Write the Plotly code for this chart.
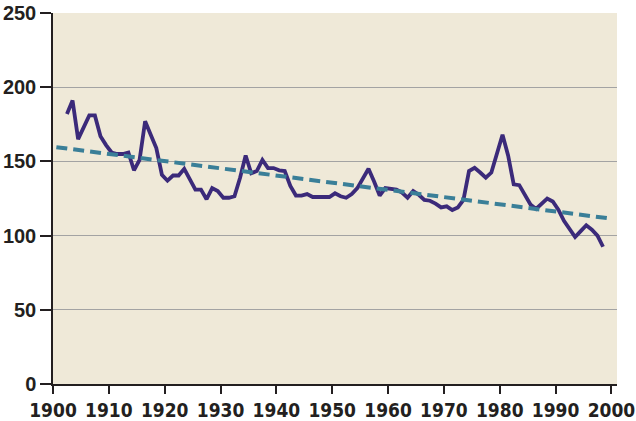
import plotly.graph_objects as go

years = list(range(1902, 1999))
values = [182, 191, 165, 173, 181, 181, 167, 161, 156, 155,
          155, 156, 144, 151, 177, 168, 159, 141, 137, 140.5,
          140.5, 145, 138, 131, 131, 124.5, 132, 130, 125.5, 125.5,
          126.5, 139, 154, 142, 143.5, 151, 145.5, 145.5, 144, 143.5,
          133.5, 127, 127, 128, 126, 126, 126, 126, 128.5, 126.5,
          125.5, 128, 132, 138.5, 145, 136.5, 127, 132, 131.5, 131,
          129, 125.5, 130, 127.5, 124, 123.5, 121.5, 119, 119.7, 117.2,
          119, 124, 143.5, 145.7, 142.5, 139, 142.5, 155, 168, 154,
          134.5, 134, 127, 121, 118, 121.5, 125, 123, 117.5, 110,
          104, 99, 103, 107, 104, 100, 92.5]

trend_years = [1900.6, 2000]
trend_values = [159.6, 111.4]

x_ticks = list(range(1900, 2001, 10))
y_ticks = [0, 50, 100, 150, 200, 250]

fig = go.Figure()
fig.add_trace(go.Scatter(
    x=[y + 0.5 for y in years], y=values, mode="lines",
    line=dict(color="#3b2a7a", width=3.8), hoverinfo="skip"))
fig.add_trace(go.Scatter(
    x=trend_years, y=trend_values, mode="lines",
    line=dict(color="#3a7f98", width=4, dash="11px,6px"), hoverinfo="skip"))

fig.update_layout(
    width=636, height=421,
    margin=dict(l=53, r=19, t=13, b=37),
    paper_bgcolor="white", plot_bgcolor="#efe9d8",
    showlegend=False,
    xaxis=dict(range=[1900, 2001], tickvals=x_ticks, ticktext=[str(t) for t in x_ticks],
               tickangle=0, automargin=False,
               showgrid=False, zeroline=False, showline=True, linecolor="#231f20",
               linewidth=1.5, ticks="outside", ticklen=8, tickwidth=1.5,
               tickcolor="#231f20",
               tickfont=dict(family="DejaVu Sans Condensed", size=19,
                             color="#231f20", weight="bold")),
    yaxis=dict(range=[0, 250], tickvals=y_ticks, showgrid=True, gridcolor="#a3a3a3",
               automargin=False,
               gridwidth=1, zeroline=False, showline=True, linecolor="#231f20",
               linewidth=1.5, ticks="outside", ticklen=11, tickwidth=1.5,
               tickcolor="#231f20",
               tickfont=dict(family="Liberation Sans", size=20, color="#231f20",
                             weight="bold")),
)

fig.write_html("out.html", config={"displayModeBar": False},
               post_script="document.body.style.margin='0';")
